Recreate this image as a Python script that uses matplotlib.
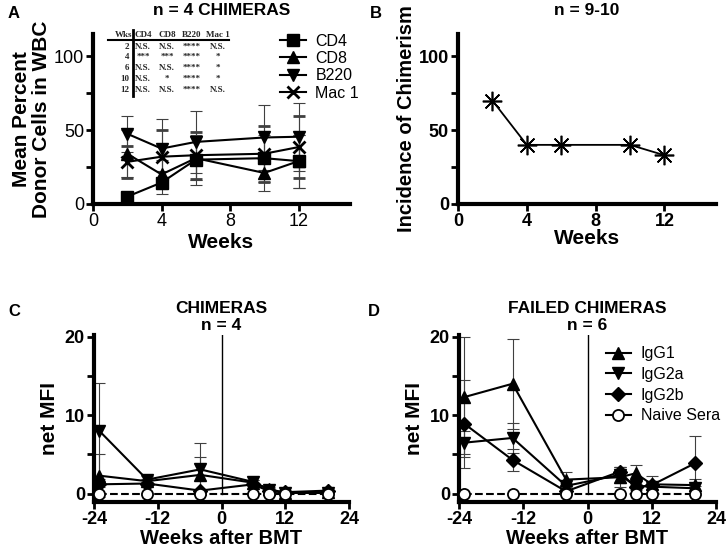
import numpy as np
import matplotlib.pyplot as plt
from matplotlib.lines import Line2D
from matplotlib.ticker import MultipleLocator

plt.rcParams['font.family'] = ['Liberation Sans', 'DejaVu Sans']
plt.rcParams['axes.unicode_minus'] = False

# panel A: donor chimerism by lineage
weeks_a = [2, 4, 6, 10, 12]
cd4 = [5, 14.5, 30, 31, 29]
cd8 = [34, 20, 31, 21, 29]
b220 = [47.5, 37.5, 42, 45, 45.5]
mac1 = [28.5, 32, 33, 34, 38.5]
cd4_err = [2, 8, 17, 16, 18]
cd8_err = [16, 10, 15, 12, 18]
b220_err = [12, 20, 21, 22, 23]
mac1_err = [11, 18, 16, 19, 21]

table_head = ["Wks", "CD4", "CD8", "B220", "Mac 1"]
table_rows = [
    ["2", "N.S.", "N.S.", "****", "N.S."],
    ["4", "***", "***", "****", "*"],
    ["6", "N.S.", "N.S.", "****", "*"],
    ["10", "N.S.", "*", "****", "*"],
    ["12", "N.S.", "N.S.", "****", "N.S."],
]

# panel B: incidence
weeks_b = [2, 4, 6, 10, 12]
incidence = [70, 40, 40, 40, 33]

# panels C/D: antibody MFI
weeks_cd = [-23, -14, -4, 6, 9, 12, 20]
c_igg1 = [2.3, 1.6, 2.4, 1.4, 0.6, 0.1, 0.2]
c_igg2a = [8.0, 1.8, 3.1, 1.5, 0.5, 0.1, 0.1]
c_igg2b = [1.2, 1.3, 0.4, 1.2, 0.3, 0.2, 0.4]
c_igg1_err = [2.7, 0.3, 2.3, 0.3, 0.2, 0.1, 0.1]
c_igg2a_err = [6.1, 0.4, 3.3, 0.3, 0.2, 0.1, 0.1]
c_igg2b_err = [0.3, 0.2, 0.2, 0.2, 0.1, 0.1, 0.1]

d_igg1 = [12.3, 14.0, 1.8, 2.1, 2.6, 1.2, 1.1]
d_igg2a = [6.5, 7.1, 1.0, 2.4, 1.0, 0.9, 0.7]
d_igg2b = [8.9, 4.3, 0.3, 2.8, 0.8, 1.1, 3.85]
d_igg1_err = [7.6, 5.7, 1.0, 1.3, 1.0, 1.0, 0.8]
d_igg2a_err = [1.5, 1.9, 0.4, 1.0, 0.3, 0.3, 0.3]
d_igg2b_err = [5.6, 1.4, 0.3, 0.6, 0.3, 0.3, 3.45]
naive = [0, 0, 0, 0, 0, 0, 0]

fig = plt.figure(figsize=(7.27, 5.52), dpi=100)
W, H = 727, 552


def px_axes(l, t, r, b):
    return fig.add_axes([l / W, 1 - b / H, (r - l) / W, (b - t) / H])


def style(ax, bold_ticks=True):
    for s in ['top', 'right']:
        ax.spines[s].set_visible(False)
    for s in ['left', 'bottom']:
        ax.spines[s].set_linewidth(3)
    ax.tick_params(which='major', width=2, length=5, labelsize=13, pad=1.5)
    ax.tick_params(which='minor', width=2, length=5)
    if bold_ticks:
        for lab in ax.get_xticklabels() + ax.get_yticklabels():
            lab.set_fontweight('bold')


def handle(m, ms=8, **kw):
    return Line2D([], [], color='k', lw=1.5, marker=m, ms=ms, **kw)


eb = dict(color='k', ecolor='0.25', elinewidth=0.8, capsize=4, capthick=0.8,
          lw=1.5, ms=8, clip_on=False)
leg_kw = dict(frameon=False, fontsize=11.5, handlelength=1.6, labelspacing=0.15,
              handletextpad=0.6, borderaxespad=0)

# ---- A
axA = px_axes(93, 34, 350, 204)
axA.errorbar(weeks_a, cd4, yerr=cd4_err, fmt='-s', **dict(eb, ms=9))
axA.errorbar(weeks_a, cd8, yerr=cd8_err, fmt='-^', **eb)
axA.errorbar(weeks_a, b220, yerr=b220_err, fmt='-v', **eb)
axA.errorbar(weeks_a, mac1, yerr=mac1_err, fmt='-x', mew=2, **eb)
axA.set_xlim(0, 15)
axA.set_ylim(0, 115)
axA.set_xticks([0, 4, 8, 12])
axA.set_yticks([0, 50, 100])
axA.yaxis.set_minor_locator(MultipleLocator(25))
style(axA, bold_ticks=False)
axA.set_xlabel('Weeks', fontsize=15, fontweight='bold', labelpad=2)
axA.set_ylabel('Mean Percent\nDonor Cells in WBC', fontsize=15, fontweight='bold',
               labelpad=2, linespacing=1.05)
axA.set_title('n = 4 CHIMERAS', fontsize=12.5, fontweight='bold', pad=14)
axA.legend([handle('s', ms=9), handle('^'), handle('v'), handle('x', mew=2)],
           ['CD4', 'CD8', 'B220', 'Mac 1'], loc='upper right',
           bbox_to_anchor=(1.06, 1.04), **leg_kw)

# stats table
col_x = [129, 143, 167, 192, 218]
row_y = [47, 57, 68, 79, 90]
tfont = dict(family='Liberation Serif', fontweight='bold', fontsize=6.5, color='0.15')
for j, h in enumerate(table_head):
    ha = 'right' if j == 0 else 'center'
    fig.text((col_x[j] + (3 if j == 0 else 0)) / W, 1 - 35 / H, h, ha=ha, va='center', **tfont)
for i, row in enumerate(table_rows):
    for j, v in enumerate(row):
        ha = 'right' if j == 0 else 'center'
        fig.text(col_x[j] / W, 1 - row_y[i] / H, v, ha=ha, va='center', **tfont)
fig.add_artist(Line2D([108 / W, 229 / W], [1 - 40 / H, 1 - 40 / H], color='k', lw=1.5))
fig.add_artist(Line2D([132.5 / W, 132.5 / W], [1 - 30 / H, 1 - 96 / H], color='k', lw=2))

# ---- B
axB = px_axes(458, 34, 716, 204)
axB.plot(weeks_b, incidence, '-k', marker=(8, 2, 0), ms=14, mew=1.2, lw=1.3)
axB.set_xlim(0, 15)
axB.set_ylim(0, 115)
axB.set_xticks([0, 4, 8, 12])
axB.set_yticks([0, 50, 100])
axB.yaxis.set_minor_locator(MultipleLocator(25))
style(axB)
axB.set_xlabel('Weeks', fontsize=15, fontweight='bold', labelpad=-1)
axB.set_ylabel('Incidence of Chimerism', fontsize=14.5, fontweight='bold', labelpad=2)
axB.set_title('n = 9-10', fontsize=12.5, fontweight='bold', pad=14)


# ---- C / D
def mfi_panel(ax, g1, g2a, g2b, e1, e2a, e2b, title, legend=False):
    ax.axvline(0, ymin=1 / 21.2, ymax=1, color='k', lw=1)
    ax.errorbar(weeks_cd, g1, yerr=e1, fmt='-^', **eb)
    ax.errorbar(weeks_cd, g2a, yerr=e2a, fmt='-v', **eb)
    ax.errorbar(weeks_cd, g2b, yerr=e2b, fmt='-D', **dict(eb, ms=7))
    ax.plot(weeks_cd, naive, '--', color='k', lw=1.5, marker='o', mfc='white',
            mew=1.3, ms=8, clip_on=False, zorder=4)
    if legend:
        ax.legend([handle('^'), handle('v'), handle('D', ms=7),
                   handle('o', mfc='white', mew=1.3)],
                  ['IgG1', 'IgG2a', 'IgG2b', 'Naive Sera'], loc='upper right',
                  bbox_to_anchor=(1.04, 0.97), **dict(leg_kw, labelspacing=0.35))
    ax.set_xlim(-24, 24)
    ax.set_ylim(-1.05, 20.2)
    ax.set_xticks([-24, -12, 0, 12, 24])
    ax.set_yticks([0, 10, 20])
    ax.yaxis.set_minor_locator(MultipleLocator(5))
    style(ax)
    ax.set_xlabel('Weeks after BMT', fontsize=14.5, fontweight='bold', labelpad=0.5)
    ax.set_ylabel('net MFI', fontsize=15, fontweight='bold', labelpad=4)
    ax.text(0, 1.01, title, transform=ax.get_xaxis_transform(), ha='center',
            va='bottom', fontsize=12.5, fontweight='bold', linespacing=1.2)


axC = px_axes(94, 335, 349, 502)
mfi_panel(axC, c_igg1, c_igg2a, c_igg2b, c_igg1_err, c_igg2a_err, c_igg2b_err,
          'CHIMERAS\nn = 4')
axD = px_axes(459, 335, 716, 502)
mfi_panel(axD, d_igg1, d_igg2a, d_igg2b, d_igg1_err, d_igg2a_err, d_igg2b_err,
          'FAILED CHIMERAS\nn = 6', legend=True)

for lab, x, y in [('A', 8, 14), ('B', 370, 14), ('C', 8, 312), ('D', 368, 312)]:
    fig.text(x / W, 1 - y / H, lab, fontsize=12, fontweight='bold', va='center')

fig.savefig('out.png', dpi=100)
